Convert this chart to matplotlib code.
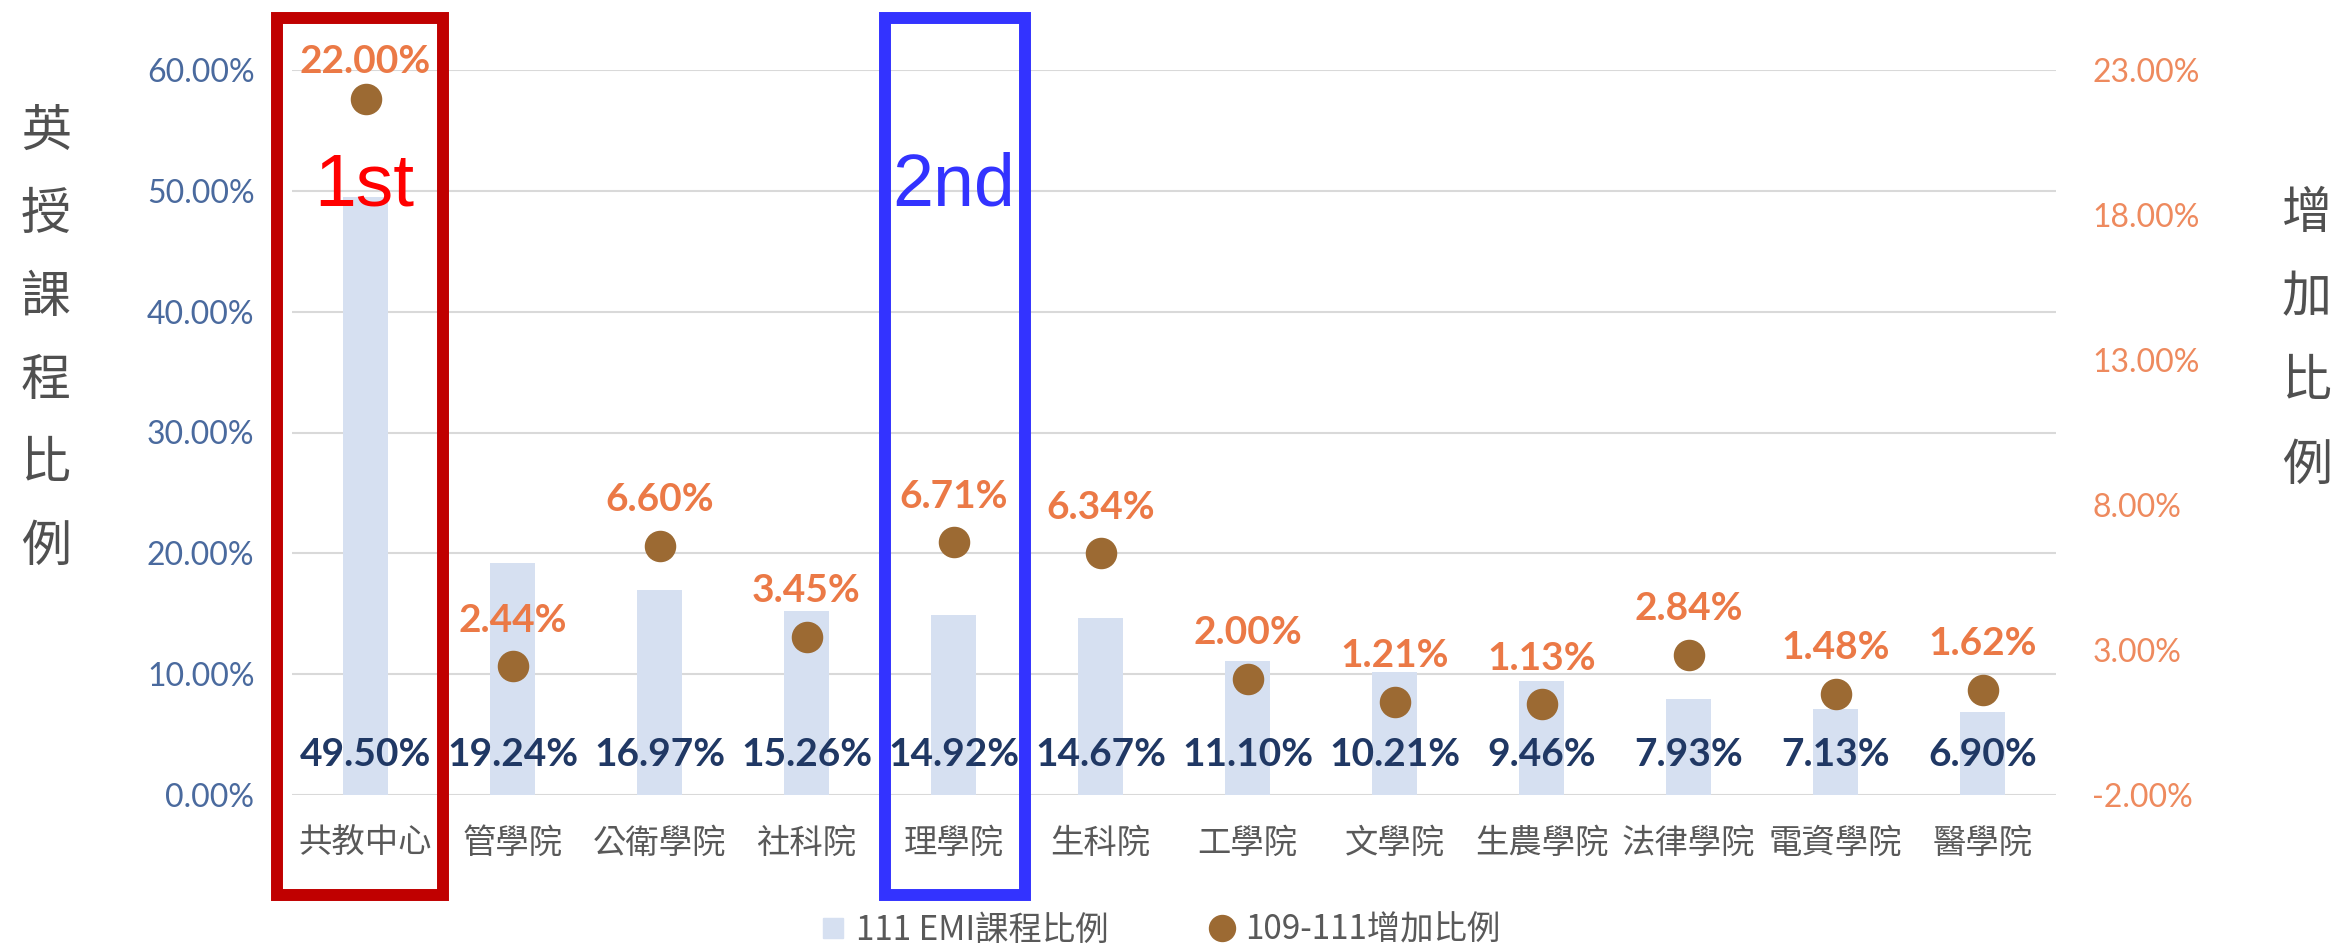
import numpy as np
import matplotlib
matplotlib.use('Agg')
import matplotlib.pyplot as plt
from matplotlib.patches import Rectangle
from matplotlib.lines import Line2D
from matplotlib.transforms import blended_transform_factory

plt.rcParams['font.family'] = ['Lato', 'Noto Sans CJK TC', 'DejaVu Sans']

colleges = ['共教中心', '管學院', '公衛學院', '社科院', '理學院', '生科院',
            '工學院', '文學院', '生農學院', '法律學院', '電資學院', '醫學院']
emi_ratio = [49.50, 19.24, 16.97, 15.26, 14.92, 14.67, 11.10, 10.21, 9.46, 7.93, 7.13, 6.90]
increase = [22.00, 2.44, 6.60, 3.45, 6.71, 6.34, 2.00, 1.21, 1.13, 2.84, 1.48, 1.62]
left_ticks = [0, 10, 20, 30, 40, 50, 60]
right_ticks = [-2, 3, 8, 13, 18, 23]
legend_labels = ['111 EMI課程比例', '109-111增加比例']
left_title = '英授課程比例'
right_title = '增加比例'

bar_color = '#D6E0F1'
dot_color = '#9C6A33'
orange = '#EB7946'
navy = '#203864'
gray = '#595959'
cjk = ['Noto Sans CJK TC', 'DejaVu Sans']

W, H = 2337, 949
fig = plt.figure(figsize=(W / 100, H / 100), dpi=100)
ax = fig.add_axes([292 / W, 1 - 795 / H, (2056 - 292) / W, (795 - 70) / H])

x = np.arange(len(colleges))
ax.bar(x, emi_ratio, width=0.31, color=bar_color, zorder=2)
ax.set_xlim(-0.5, len(colleges) - 0.5)
ax.set_ylim(0, 60)
ax.set_yticks(left_ticks)
ax.set_yticklabels(['%.2f%%' % t for t in left_ticks])
ax.yaxis.grid(True, color='#D9D9D9', linewidth=1.5)
ax.set_axisbelow(True)
for s in ax.spines.values():
    s.set_visible(False)
ax.tick_params(axis='y', length=0, pad=27, labelsize=23, labelcolor='#4A6A9E')
ax.set_xticks(x)
ax.set_xticklabels(colleges, family=cjk, fontsize=24, color=gray)
ax.tick_params(axis='x', length=0, pad=22)

for xi, v in zip(x, emi_ratio):
    ax.annotate('%.2f%%' % v, (xi, 0), xytext=(0, 29), textcoords='offset points',
                ha='center', va='center', fontsize=28, fontweight='bold', color=navy, zorder=5)

ax2 = ax.twinx()
ax2.set_ylim(-2, 23)
ax2.set_yticks(right_ticks)
ax2.set_yticklabels(['%.2f%%' % t for t in right_ticks])
for s in ax2.spines.values():
    s.set_visible(False)
ax2.tick_params(axis='y', length=0, pad=26, labelsize=23, labelcolor='#EE8A5E')
ax2.scatter(x, increase, s=470, color=dot_color, zorder=4)

label_y = np.minimum(np.array(increase) + 1.59, 23.3)
for xi, v, ly in zip(x, increase, label_y):
    ax2.text(xi, ly, '%.2f%%' % v, ha='center', va='center', fontsize=28,
             fontweight='bold', color=orange, zorder=5)

# side titles, stacked vertically
for i, ch in enumerate(left_title):
    fig.text(46 / W, 1 - (132 + i * 83) / H, ch, ha='center', va='center',
             fontsize=36, family=cjk, color='#505050', fontweight='light')
for i, ch in enumerate(right_title):
    fig.text(2307 / W, 1 - (214 + i * 84) / H, ch, ha='center', va='center',
             fontsize=36, family=cjk, color='#505050', fontweight='light')

# legend
handles = [Line2D([], [], marker='s', ls='', markersize=14.5, color=bar_color),
           Line2D([], [], marker='o', ls='', markersize=18.7, color=dot_color)]
fig.legend(handles, legend_labels, loc='center', bbox_to_anchor=(1160 / W, 1 - 930 / H),
           ncol=2, frameon=False, handlelength=0.8, handletextpad=0.3, columnspacing=3.0,
           prop={'family': cjk, 'size': 24}, labelcolor=gray)

# highlight boxes
trans = blended_transform_factory(ax.transData, fig.transFigure)
ax.add_patch(Rectangle((-0.04 - 0.565, 1 - 895 / H), 1.13, (895 - 18) / H, fill=False,
                       ec='#C00000', lw=8.6, transform=trans, clip_on=False, zorder=10))
ax.add_patch(Rectangle((4.01 - 0.473, 1 - 895 / H), 0.946, (895 - 18) / H, fill=False,
                       ec='#3333FF', lw=8.6, transform=trans, clip_on=False, zorder=10))
ax.text(-0.01, 1 - 186 / H, '1st', transform=trans, ha='center', va='center',
        fontsize=54, family='Liberation Sans', color='#FF0000', zorder=11)
ax.text(4.0, 1 - 186 / H, '2nd', transform=trans, ha='center', va='center',
        fontsize=53, family='Liberation Sans', color='#3333FF', zorder=11)

fig.savefig('out.png', dpi=100, facecolor='white')
